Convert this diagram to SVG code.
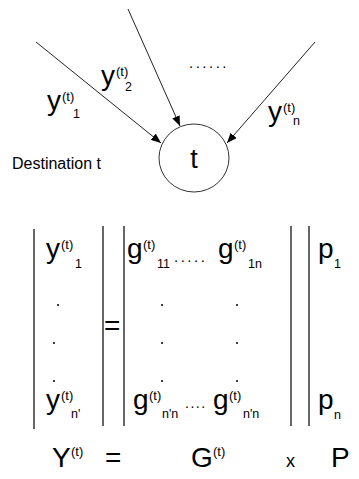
<svg xmlns="http://www.w3.org/2000/svg" width="359" height="479" viewBox="0 0 359 479">
<defs>
<marker id="ah" markerWidth="10" markerHeight="8" refX="10" refY="4" orient="auto" markerUnits="userSpaceOnUse">
<path d="M0,0 L10,4 L0,8 Z" fill="#000"/>
</marker>
</defs>
<style>
text{font-family:"Liberation Sans",Arial,sans-serif;fill:#000}
.big{font-size:28px}
.sup{font-size:13px}
.sub{font-size:12.5px}
.lbl{font-size:16px}
.dots{font-size:15px;letter-spacing:2.5px}
.dots2{font-size:14px;letter-spacing:1.5px}
.bar{stroke:#000;stroke-width:1.2}
.dot{fill:#000}
.edge{stroke:#222;stroke-width:1;fill:none}
</style>
<rect width="359" height="479" fill="#fff"/>
<g id="connectors">
<line class="edge" x1="36" y1="42" x2="161" y2="143" marker-end="url(#ah)"/>
<line class="edge" x1="128" y1="9" x2="180" y2="126" marker-end="url(#ah)"/>
<line class="edge" x1="315" y1="42" x2="227" y2="143" marker-end="url(#ah)"/>
</g>
<g id="node-t">
<ellipse cx="194" cy="158" rx="35" ry="34" fill="#fff" stroke="#333" stroke-width="1"/>
<text x="194" y="168" style="font-size:27px" text-anchor="middle">t</text>
</g>
<g id="label-dest"><text x="12" y="169" class="lbl">Destination t</text></g>
<g id="label-y1"><text x="47" y="110" class="big">y</text><text x="62" y="101" class="sup">(t)</text><text x="73" y="118" class="sub">1</text></g>
<g id="label-y2"><text x="101" y="85" class="big">y</text><text x="116" y="76" class="sup">(t)</text><text x="125" y="91" class="sub">2</text></g>
<g id="label-dots"><text x="189" y="68" class="dots">......</text></g>
<g id="label-yn"><text x="268" y="121" class="big">y</text><text x="283" y="112" class="sup">(t)</text><text x="293" y="125" class="sub">n</text></g>

<g id="matrix">
<line class="bar" x1="34" y1="229" x2="34" y2="429"/>
<line class="bar" x1="103" y1="226" x2="103" y2="426"/>
<line class="bar" x1="124" y1="226" x2="124" y2="426"/>
<line class="bar" x1="291" y1="226" x2="291" y2="426"/>
<line class="bar" x1="309" y1="226" x2="309" y2="426"/>

<text x="46" y="258" class="big">y</text><text x="61" y="249" class="sup">(t)</text><text x="75" y="268" class="sub">1</text>
<circle class="dot" cx="58" cy="305" r="1"/><circle class="dot" cx="54" cy="343" r="1"/><circle class="dot" cx="54" cy="381" r="1"/>
<text x="46" y="409" class="big">y</text><text x="61" y="400" class="sup">(t)</text><text x="71" y="418" class="sub">n'</text>

<text x="104" y="335" class="big">=</text>

<text x="127" y="258" class="big">g</text><text x="143" y="249" class="sup">(t)</text><text x="157" y="268" class="sub">11</text>
<text x="174" y="262" class="dots">.....</text>
<text x="218" y="258" class="big">g</text><text x="234" y="249" class="sup">(t)</text><text x="248" y="268" class="sub">1n</text>
<circle class="dot" cx="162" cy="305" r="1"/><circle class="dot" cx="162" cy="343" r="1"/><circle class="dot" cx="162" cy="381" r="1"/>
<circle class="dot" cx="237" cy="305" r="1"/><circle class="dot" cx="237" cy="343" r="1"/><circle class="dot" cx="237" cy="381" r="1"/>
<text x="133" y="409" class="big">g</text><text x="149" y="400" class="sup">(t)</text><text x="162" y="418" class="sub">n'n</text>
<text x="185" y="408" class="dots2">....</text>
<text x="213" y="409" class="big">g</text><text x="229" y="400" class="sup">(t)</text><text x="243" y="418" class="sub">n'n</text>

<text x="318" y="258" class="big">p</text><text x="334" y="268" class="sub">1</text>
<text x="318" y="409" class="big">p</text><text x="334" y="419" class="sub">n</text>
</g>

<g id="equation">
<text x="52" y="467" class="big">Y</text><text x="71" y="456" class="sup">(t)</text>
<text x="105" y="467" class="big">=</text>
<text x="191" y="467" class="big">G</text><text x="213" y="456" class="sup">(t)</text>
<text x="286" y="467" style="font-size:18px">x</text>
<text x="331" y="467" class="big">P</text>
</g>
</svg>
